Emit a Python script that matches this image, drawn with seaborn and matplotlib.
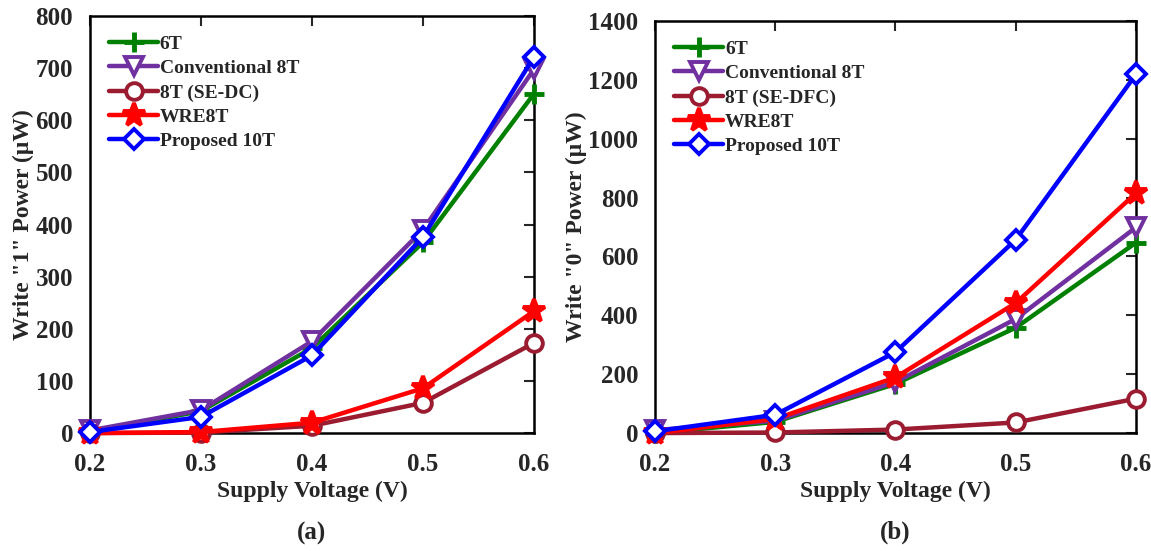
import numpy as np
import pandas as pd
import matplotlib
matplotlib.use("Agg")
import matplotlib.pyplot as plt
import seaborn as sns

voltage = [0.2, 0.3, 0.4, 0.5, 0.6]

# (a) Write "1" power (uW)
w1_6t = [2, 42, 163, 366, 651]
w1_conv8t = [5, 44, 176, 390, 698]
w1_sedc = [0, 1, 14, 58, 173]
w1_wre8t = [0, 2, 20, 86, 234]
w1_prop10t = [2, 31, 149, 376, 722]

# (b) Write "0" power (uW)
w0_6t = [0, 38, 167, 358, 647]
w0_conv8t = [10, 42, 173, 388, 699]
w0_sedfc = [0, 2, 12, 36, 117]
w0_wre8t = [0, 48, 189, 442, 815]
w0_prop10t = [6, 62, 275, 657, 1219]

names_a = ["6T", "Conventional 8T", "8T (SE-DC)", "WRE8T", "Proposed 10T"]
names_b = ["6T", "Conventional 8T", "8T (SE-DFC)", "WRE8T", "Proposed 10T"]

sns.set_style("white")
plt.rcParams['font.family'] = ['Liberation Serif', 'DejaVu Serif']
plt.rcParams['font.weight'] = 'bold'
plt.rcParams['axes.labelweight'] = 'bold'

colors = ["#008000", "#7030A0", "#9B1B30", "#FF0000", "#0000FF"]
markers = ["+", "v", "o", "*", "D"]
msizes = [15, 13, 12, 17, 10]
mfcs = [None, "white", "white", "#FF0000", "white"]

fig = plt.figure(figsize=(11.51, 5.51), dpi=100)
ax1 = fig.add_axes([0.078, 0.214, 0.386, 0.757])
ax2 = fig.add_axes([0.569, 0.214, 0.418, 0.748])

def draw(ax, series, names, ymax, ystep, ylabel, tag):
    for i, (vals, name) in enumerate(zip(series, names)):
        df = pd.DataFrame({"V": voltage, "P": vals})
        kw = dict(marker=markers[i], markersize=msizes[i], markeredgecolor=colors[i],
                  markeredgewidth=3.5 if markers[i] == "+" else 2.8)
        if mfcs[i] is not None:
            kw["markerfacecolor"] = mfcs[i]
        sns.lineplot(data=df, x="V", y="P", ax=ax, color=colors[i], linewidth=3.2,
                     label=name, clip_on=False, zorder=3 + i, **kw)
    ax.set_xlim(0.2, 0.6)
    ax.set_ylim(0, ymax)
    ax.set_xticks(voltage)
    ax.set_xticklabels([f"{v:.1f}" for v in voltage])
    ax.set_yticks(np.arange(0, ymax + 1, ystep))
    ax.tick_params(direction="in", top=True, right=True, length=7, width=1.5,
                   labelsize=18)
    ax.tick_params(axis="x", pad=14)
    ax.tick_params(axis="y", pad=12)
    for lab in ax.get_xticklabels() + ax.get_yticklabels():
        lab.set_fontweight("bold")
    for s in ax.spines.values():
        s.set_color("black")
        s.set_linewidth(1.8)
    ax.set_xlabel("Supply Voltage (V)", fontsize=17, fontweight="bold", labelpad=4)
    ax.set_ylabel(ylabel, fontsize=17, fontweight="bold", labelpad=1)
    ax.legend(loc="upper left", frameon=False, handlelength=2.5, handletextpad=0.1,
              labelspacing=0.34, borderaxespad=0.6, prop={"size": 14, "weight": "bold"})
    ax.text(0.5, -0.24, tag, transform=ax.transAxes, ha="center", va="center",
            fontsize=18, fontweight="bold")

draw(ax1, [w1_6t, w1_conv8t, w1_sedc, w1_wre8t, w1_prop10t], names_a, 800, 100,
     'Write "1" Power (\u03bcW)', "(a)")
draw(ax2, [w0_6t, w0_conv8t, w0_sedfc, w0_wre8t, w0_prop10t], names_b, 1400, 200,
     'Write "0" Power (\u03bcW)', "(b)")

fig.savefig("out.png", dpi=100)
